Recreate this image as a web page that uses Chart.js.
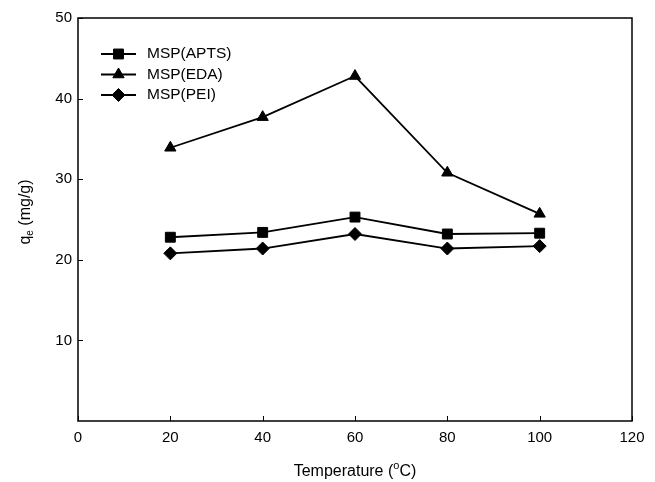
<!DOCTYPE html>
<html>
<head>
<meta charset="utf-8">
<script src="https://cdn.jsdelivr.net/npm/chart.js@4"></script>
<style>
  html, body { margin: 0; padding: 0; background: #fff; }
  #wrap { width: 655px; height: 482px; }
</style>
</head>
<body>
<div id="wrap"><canvas id="myChart" width="655" height="482"></canvas></div>
<script>
// temperatures (°C) and adsorption capacity qe (mg/g)
const temperaturas = [20, 40, 60, 80, 100];
const apts = [22.8, 23.4, 25.3, 23.2, 23.3];
const eda = [33.9, 37.7, 42.8, 30.8, 25.7];
const pei = [20.8, 21.4, 23.2, 21.4, 21.7];
const seriesNames = ['MSP(APTS)', 'MSP(EDA)', 'MSP(PEI)'];
const xTicks = [0, 20, 40, 60, 80, 100, 120];
const yTicks = [10, 20, 30, 40, 50];

const fonte = '"Liberation Sans", Arial, sans-serif';

function pontos(vals) {
  const out = [];
  for (let i = 0; i < temperaturas.length; i++) {
    out.push({ x: temperaturas[i], y: vals[i] });
  }
  return out;
}

const estilos = [
  { pointStyle: 'rect', pointRadius: 7 },
  { pointStyle: 'triangle', pointRadius: 6.5 },
  { pointStyle: 'rectRot', pointRadius: 6.5 }
];
const valores = [apts, eda, pei];

const datasets = [];
for (let i = 0; i < seriesNames.length; i++) {
  datasets.push({
    label: seriesNames[i],
    data: pontos(valores[i]),
    borderColor: '#000',
    backgroundColor: '#000',
    borderWidth: 1.8,
    pointStyle: estilos[i].pointStyle,
    pointRadius: estilos[i].pointRadius,
    pointBorderWidth: 1,
    tension: 0
  });
}

// frame, inward ticks, titles and legend
const moldura = {
  id: 'moldura',
  afterDraw(chart) {
    const ctx = chart.ctx;
    const a = chart.chartArea;
    const xs = chart.scales.x, ys = chart.scales.y;
    ctx.save();
    ctx.strokeStyle = '#000';
    ctx.lineWidth = 1.5;
    ctx.strokeRect(a.left, a.top, a.right - a.left, a.bottom - a.top);
    ctx.lineWidth = 1;
    ctx.beginPath();
    yTicks.forEach(v => {
      const y = Math.round(ys.getPixelForValue(v)) + 0.5;
      ctx.moveTo(a.left, y); ctx.lineTo(a.left + 5, y);
    });
    xTicks.forEach(v => {
      const x = Math.round(xs.getPixelForValue(v)) + 0.5;
      ctx.moveTo(x, a.bottom); ctx.lineTo(x, a.bottom - 5);
    });
    ctx.stroke();

    // x title with superscript
    ctx.fillStyle = '#000';
    ctx.textBaseline = 'alphabetic';
    const cx = (a.left + a.right) / 2;
    const parte1 = 'Temperature (', sup = 'o', parte2 = 'C)';
    ctx.font = '16px ' + fonte;
    const w1 = ctx.measureText(parte1).width;
    const w3 = ctx.measureText(parte2).width;
    ctx.font = '11px ' + fonte;
    const w2 = ctx.measureText(sup).width;
    let x0 = cx - (w1 + w2 + w3) / 2;
    const by = 476;
    ctx.font = '16px ' + fonte;
    ctx.textAlign = 'left';
    ctx.fillText(parte1, x0, by);
    ctx.font = '11px ' + fonte;
    ctx.fillText(sup, x0 + w1, by - 7);
    ctx.font = '16px ' + fonte;
    ctx.fillText(parte2, x0 + w1 + w2, by);

    // y title with subscript
    ctx.save();
    ctx.translate(30, 212);
    ctx.rotate(-Math.PI / 2);
    const q = 'q', sub = 'e', resto = ' (mg/g)';
    ctx.font = '16px ' + fonte;
    const wq = ctx.measureText(q).width;
    const wr = ctx.measureText(resto).width;
    ctx.font = '10px ' + fonte;
    const ws = ctx.measureText(sub).width;
    let y0 = -(wq + ws + wr) / 2;
    ctx.font = '16px ' + fonte;
    ctx.fillText(q, y0, 0);
    ctx.font = '10px ' + fonte;
    ctx.fillText(sub, y0 + wq, 3);
    ctx.font = '16px ' + fonte;
    ctx.fillText(resto, y0 + wq + ws, 0);
    ctx.restore();

    // legend
    ctx.font = '15.5px ' + fonte;
    ctx.textBaseline = 'middle';
    chart.data.datasets.forEach((ds, i) => {
      const ly = 54 + i * 20.5;
      ctx.strokeStyle = '#000';
      ctx.lineWidth = 1.8;
      ctx.beginPath();
      ctx.moveTo(101, ly); ctx.lineTo(136, ly);
      ctx.stroke();
      ctx.fillStyle = '#000';
      ctx.lineWidth = 1;
      Chart.helpers.drawPoint(ctx, {
        pointStyle: ds.pointStyle, radius: ds.pointRadius, rotation: 0, borderWidth: 1
      }, 118.5, ly);
      ctx.fillText(ds.label, 147, ly);
    });
    ctx.restore();
  }
};

const ctx = document.getElementById('myChart').getContext('2d');
const myChart = new Chart(ctx, {
  type: 'line',
  data: { datasets: datasets },
  options: {
    responsive: false,
    animation: false,
    layout: { padding: { top: 18, right: 23, left: 0, bottom: 0 } },
    plugins: { legend: { display: false }, tooltip: { enabled: false } },
    scales: {
      x: {
        type: 'linear',
        min: 0, max: 120,
        afterBuildTicks: s => { s.ticks = xTicks.map(v => ({ value: v })); },
        afterFit: s => { s.height = 61; },
        grid: { display: false, drawTicks: false },
        border: { display: false },
        ticks: { color: '#000', font: { family: fonte, size: 15 }, padding: 8, maxRotation: 0 }
      },
      y: {
        min: 0, max: 50,
        afterBuildTicks: s => { s.ticks = yTicks.map(v => ({ value: v })); },
        afterFit: s => { s.width = 78; },
        grid: { display: false, drawTicks: false },
        border: { display: false },
        ticks: { color: '#000', font: { family: fonte, size: 15 }, padding: 6 }
      }
    }
  },
  plugins: [moldura]
});
</script>
</body>
</html>
